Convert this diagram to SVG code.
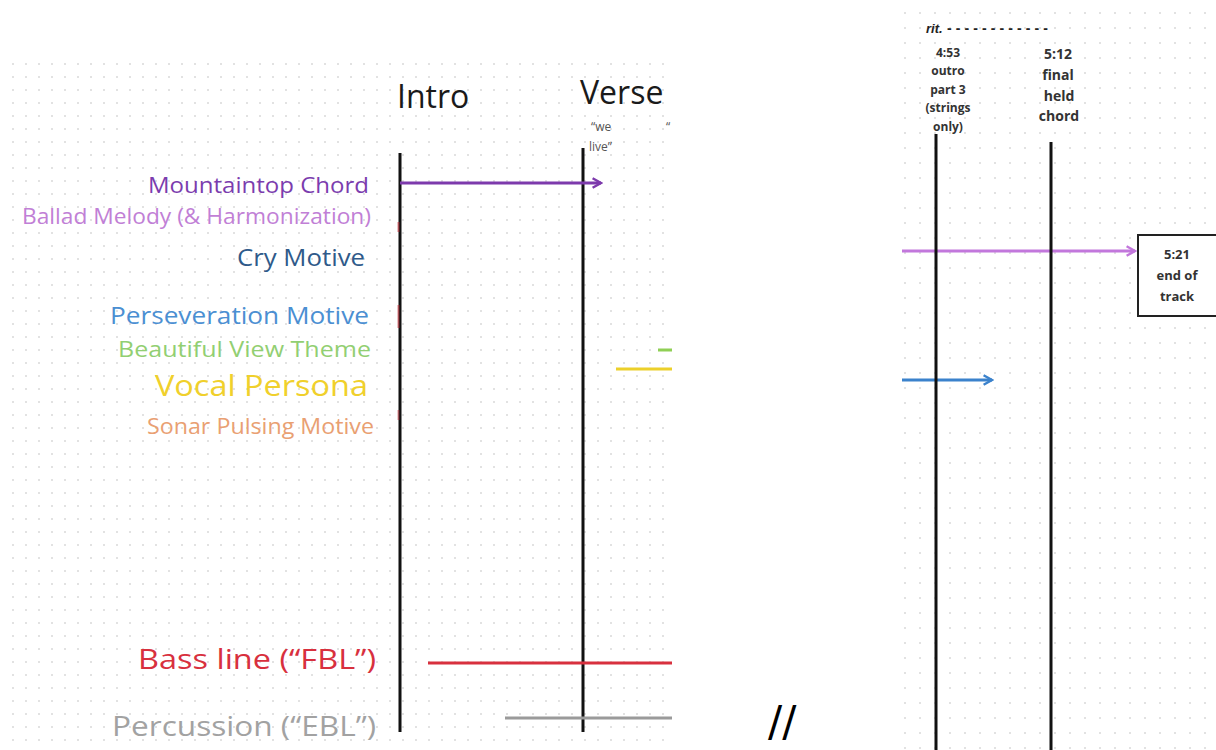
<svg xmlns="http://www.w3.org/2000/svg" width="1216" height="750" viewBox="0 0 1216 750">
<defs>
<pattern id="dotsL" x="12" y="63" width="13" height="13" patternUnits="userSpaceOnUse"><circle cx="1" cy="1" r="1" fill="#d9d9d9"/></pattern>
<pattern id="dotsR" x="904" y="12" width="15" height="15" patternUnits="userSpaceOnUse"><circle cx="1" cy="1" r="1" fill="#d9d9d9"/></pattern>
<clipPath id="clipL"><rect x="10" y="58" width="662" height="692"/></clipPath>
<clipPath id="clipR"><rect x="902" y="8" width="314" height="742"/></clipPath>
<marker id="arrPurple" viewBox="0 0 10 10" refX="8" refY="5" markerWidth="4" markerHeight="4" orient="auto" markerUnits="strokeWidth"><path d="M1,1 L8,5 L1,9" fill="none" stroke="#7d3aac" stroke-width="2"/></marker>
<marker id="arrLilac" viewBox="0 0 10 10" refX="8" refY="5" markerWidth="4" markerHeight="4" orient="auto" markerUnits="strokeWidth"><path d="M1,1 L8,5 L1,9" fill="none" stroke="#c277dc" stroke-width="2"/></marker>
<marker id="arrBlue" viewBox="0 0 10 10" refX="8" refY="5" markerWidth="4" markerHeight="4" orient="auto" markerUnits="strokeWidth"><path d="M1,1 L8,5 L1,9" fill="none" stroke="#3b82cc" stroke-width="2"/></marker>
</defs>
<style>
.lbl{font-family:"Open Sans","Noto Sans",sans-serif;text-anchor:end}
.hdr{font-family:"Open Sans","Noto Sans",sans-serif;font-size:32px;fill:#1a1a1a}
.small{font-family:"Open Sans","Noto Sans",sans-serif;font-size:12px;fill:#555}
.note{font-family:"Open Sans","Noto Sans",sans-serif;font-weight:bold;fill:#333;text-anchor:middle}
.vline{stroke:#111;stroke-width:3}
</style>
<rect width="1216" height="750" fill="#ffffff"/>
<rect x="10" y="58" width="662" height="686" fill="url(#dotsL)"/>
<rect x="902" y="8" width="314" height="742" fill="url(#dotsR)"/>

<g id="labels">
<text class="lbl" x="369" y="193" font-size="22" fill="#7b3cae" textLength="221" lengthAdjust="spacingAndGlyphs">Mountaintop Chord</text>
<text class="lbl" x="371" y="224" font-size="21" fill="#c17fd6" textLength="349" lengthAdjust="spacingAndGlyphs">Ballad Melody (&amp; Harmonization)</text>
<text class="lbl" x="365" y="266" font-size="23" fill="#2f5a8a" textLength="128" lengthAdjust="spacingAndGlyphs">Cry Motive</text>
<text class="lbl" x="369" y="324" font-size="23" fill="#4b8fd2" textLength="259" lengthAdjust="spacingAndGlyphs">Perseveration Motive</text>
<text class="lbl" x="371" y="357" font-size="21" fill="#92cf72" textLength="253" lengthAdjust="spacingAndGlyphs">Beautiful View Theme</text>
<text class="lbl" x="368" y="396" font-size="30" fill="#f0d02c" textLength="213" lengthAdjust="spacingAndGlyphs">Vocal Persona</text>
<text class="lbl" x="374" y="434" font-size="21" fill="#e9a072" textLength="227" lengthAdjust="spacingAndGlyphs">Sonar Pulsing Motive</text>
<text class="lbl" x="376" y="669" font-size="28" fill="#d8303e" textLength="238" lengthAdjust="spacingAndGlyphs">Bass line (“FBL”)</text>
<text class="lbl" x="376" y="736" font-size="28" fill="#a2a2a2" textLength="264" lengthAdjust="spacingAndGlyphs">Percussion (“EBL”)</text>
</g>

<g id="left-sections" clip-path="url(#clipL)">
<g id="intro">
<text class="hdr" x="397" y="108">Intro</text>
<line class="vline" x1="400" y1="153" x2="400" y2="732"/>
</g>
<g id="verse">
<text class="hdr" x="580" y="104">Verse</text>
<text class="small" x="591" y="131">“we</text>
<text class="small" x="589" y="151">live”</text>
<text class="small" x="666" y="131">“</text>
<line class="vline" x1="583" y1="148" x2="583" y2="732"/>
</g>
</g>

<g id="connectors">
<g clip-path="url(#clipL)">
<line x1="400" y1="183" x2="601" y2="183" stroke="#7d3aac" stroke-width="3" marker-end="url(#arrPurple)"/>
<line x1="658" y1="350" x2="672" y2="350" stroke="#8fcf55" stroke-width="3"/>
<line x1="616" y1="369" x2="672" y2="369" stroke="#ecd02a" stroke-width="3"/>
<line x1="428" y1="663" x2="672" y2="663" stroke="#d8303e" stroke-width="3"/>
<line x1="505" y1="718" x2="672" y2="718" stroke="#9a9a9a" stroke-width="3"/>
<line x1="398.5" y1="222" x2="398.5" y2="232" stroke="#c0303a" stroke-width="2" opacity="0.6"/>
<line x1="398.5" y1="305" x2="398.5" y2="328" stroke="#c0303a" stroke-width="2" opacity="0.6"/>
<line x1="398.5" y1="410" x2="398.5" y2="420" stroke="#c0303a" stroke-width="2" opacity="0.5"/>
</g>
<g clip-path="url(#clipR)">
<line x1="902" y1="251" x2="1135" y2="251" stroke="#c277dc" stroke-width="3" marker-end="url(#arrLilac)"/>
<line x1="902" y1="380" x2="992" y2="380" stroke="#3b82cc" stroke-width="3" marker-end="url(#arrBlue)"/>
</g>
</g>

<g id="break-mark">
<text x="768" y="736" font-family="DejaVu Sans, sans-serif" font-size="42" fill="#000">//</text>
</g>

<g id="right-sections" clip-path="url(#clipR)">
<g id="rit">
<text x="926" y="33" font-family="Liberation Sans, Arial, sans-serif" font-size="13" font-style="italic" font-weight="bold" fill="#222">rit.</text>
<text x="947" y="33" font-family="Liberation Sans, Arial, sans-serif" font-size="14" font-weight="bold" fill="#222" textLength="101" lengthAdjust="spacing">------------</text>
</g>
<g id="outro3">
<text class="note" font-size="12" x="948" y="57">4:53</text>
<text class="note" font-size="12" x="948" y="75">outro</text>
<text class="note" font-size="12" x="948" y="94">part 3</text>
<text class="note" font-size="12" x="948" y="112">(strings</text>
<text class="note" font-size="12" x="948" y="131">only)</text>
<line class="vline" x1="936" y1="134" x2="936" y2="750"/>
</g>
<g id="final-chord">
<text class="note" font-size="14" x="1058" y="59">5:12</text>
<text class="note" font-size="14" x="1058" y="80">final</text>
<text class="note" font-size="14" x="1059" y="101">held</text>
<text class="note" font-size="14" x="1059" y="121">chord</text>
<line class="vline" x1="1051" y1="142" x2="1051" y2="750"/>
</g>
<g id="end-of-track">
<rect x="1138" y="235" width="82" height="81" fill="#ffffff" stroke="#222" stroke-width="2"/>
<text class="note" font-size="13" x="1177" y="259">5:21</text>
<text class="note" font-size="13" x="1177" y="280">end of</text>
<text class="note" font-size="13" x="1177" y="301">track</text>
</g>
</g>
</svg>
